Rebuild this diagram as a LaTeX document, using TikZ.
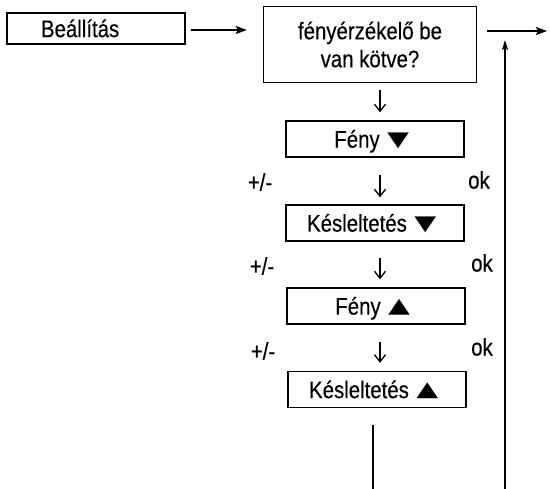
\documentclass[tikz,border=0pt]{standalone}
\usepackage{graphicx}
\usepackage{fontspec}
\setmainfont{Liberation Sans}[FakeStretch=0.85,FakeBold=0.3]
\usetikzlibrary{arrows.meta}
\newcommand\dntri{\kern-5pt\scalebox{1.75}[1.1]{▼}}
\newcommand\uptri{\kern-5pt\scalebox{1.75}[1.1]{▲}}
\begin{document}
\begin{tikzpicture}[x=1pt,y=-1pt,
  every node/.style={font=\fontsize{24pt}{28pt}\selectfont, inner sep=0pt},
  box/.style={draw, line width=1.4pt, minimum height=36pt, minimum width=178pt, text height=17.2pt, text depth=0pt},
  harr/.style={line width=1.4pt, -{Stealth[length=11pt,width=8pt,inset=2pt]}},
  darr/.style={line width=1.3pt, -{Straight Barb[length=7pt,width=11pt]}}
]
\useasboundingbox (0,0) rectangle (550,489);
\node[draw, line width=1.4pt, minimum height=31pt, text width=110pt, inner xsep=34pt, align=left, text height=17.2pt, text depth=0pt] (set) at (96,28.5) {Beállítás};
\node[box, minimum width=213pt, minimum height=76pt, align=center, text height=, text depth=] (ask) at (370,44.5) {fényérzékelő be\\van kötve?};
\node[box] (f1) at (375,139) {Fény \dntri};
\node[box] (k1) at (375,223) {Késleltetés \dntri};
\node[box] (f2) at (376,306) {Fény \uptri};
\node[box] (k2) at (377,389.5) {Késleltetés \uptri};
\coordinate (ax) at (380,0);
\coordinate (bx) at (373,0);
\coordinate (bot) at (373,489);
\coordinate (outend) at (547,31);
\coordinate (upbot) at (505,489);
\coordinate (uptop) at (505,40);
\draw[harr, shorten <=5pt, shorten >=16pt] ([yshift=-1.5pt]set.east) -- ([yshift=-1.5pt]set.east -| ask.west);
\draw[harr, shorten <=10pt] (ask.east |- outend) -- (outend);
\draw[line width=1.4pt, -{Stealth[length=10pt,width=6pt,inset=2pt]}] (upbot) -- (uptop);
\draw[darr, shorten <=7pt, shorten >=8pt] (ask.south -| ax) -- (f1.north -| ax);
\draw[darr, shorten <=17pt, shorten >=7pt] (f1.south -| ax) -- (k1.north -| ax);
\draw[darr, shorten <=16pt, shorten >=8pt] (k1.south -| ax) -- (f2.north -| ax);
\draw[darr, shorten <=17pt, shorten >=8pt] (f2.south -| ax) -- (k2.north -| ax);
\draw[line width=1.4pt, shorten <=17pt] (k2.south -| bx) -- (bot);
\node (pm1) at (260,182) {+/-};
\node (pm2) at (262,266) {+/-};
\node (pm3) at (263,351) {+/-};
\node (ok1) at (479,180) {ok};
\node (ok2) at (482,263) {ok};
\node (ok3) at (482,347) {ok};
\end{tikzpicture}
\end{document}
